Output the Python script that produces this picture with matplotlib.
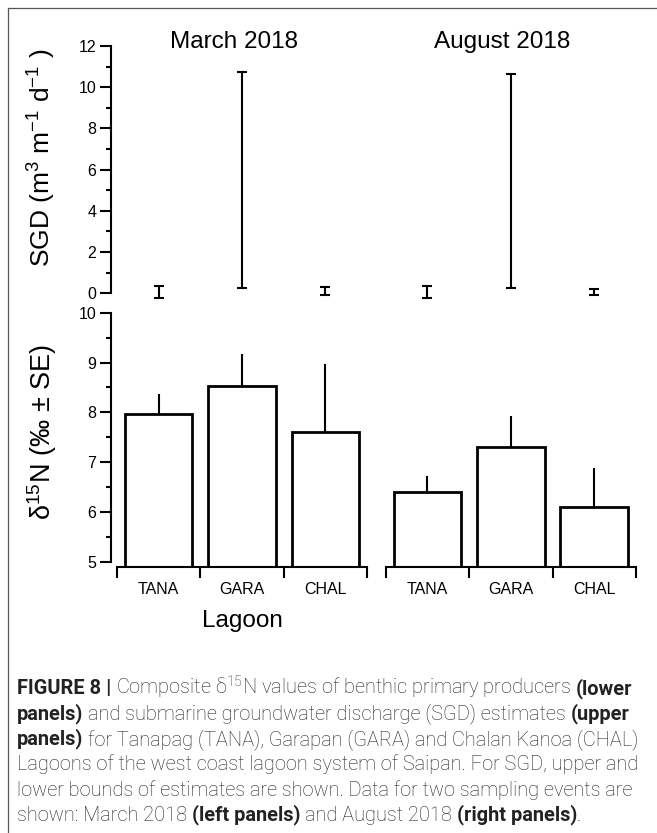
import matplotlib
matplotlib.use("Agg")
import matplotlib.pyplot as plt
from matplotlib.lines import Line2D
import numpy as np

plt.rcParams['font.family'] = ['Liberation Sans', 'DejaVu Sans']
plt.rcParams['mathtext.default'] = 'regular'

# data
lagoons = ['TANA', 'GARA', 'CHAL']
months = ['March 2018', 'August 2018']

sgd_low = [[-0.24, 0.24, -0.08], [-0.24, 0.24, -0.10]]
sgd_high = [[0.37, 10.73, 0.32], [0.37, 10.63, 0.19]]

d15n_mean = [[7.96, 8.53, 7.61], [6.39, 7.30, 6.09]]
d15n_se = [[0.41, 0.64, 1.35], [0.34, 0.62, 0.80]]

W, H = 657, 833
fig = plt.figure(figsize=(W / 100, H / 100), dpi=100)


def rect(x0, y0, x1, y1):
    # pixel box (top-left origin) -> figure fraction
    return [x0 / W, 1 - y1 / H, (x1 - x0) / W, (y1 - y0) / H]


xcols = [(117, 367), (385.7, 636)]
title_x = [233.7, 502]
lw = 1.5
x = np.arange(len(lagoons))

for i in range(2):
    x0, x1 = xcols[i]
    top = fig.add_axes(rect(x0, 46, x1, 300.5))
    bot = fig.add_axes(rect(x0, 312.7, x1, 566.7))

    # SGD ranges
    lo = np.array(sgd_low[i])
    hi = np.array(sgd_high[i])
    mid = (lo + hi) / 2
    top.errorbar(x, mid, yerr=(hi - lo) / 2, fmt='none', ecolor='black',
                 elinewidth=lw, capsize=3.3, capthick=lw)
    top.set_xlim(-0.5, 2.5)
    top.set_ylim(-0.35, 12)
    for s in ['top', 'right', 'bottom']:
        top.spines[s].set_visible(False)
    top.set_xticks([])
    fig.text(title_x[i] / W, 1 - 48 / H, months[i], fontsize=17.5,
             ha='center', va='baseline')

    # d15N bars
    bot.bar(x, d15n_mean[i], width=0.81, bottom=0, color='white',
            edgecolor='black', linewidth=2, zorder=2)
    bot.errorbar(x, d15n_mean[i], yerr=[np.zeros(3), d15n_se[i]], fmt='none',
                 ecolor='black', elinewidth=lw, capsize=0, zorder=1)
    bot.set_xlim(-0.5, 2.5)
    bot.set_ylim(4.9, 10)
    for s in ['top', 'right']:
        bot.spines[s].set_visible(False)
    bot.spines['bottom'].set_linewidth(lw)
    bot.set_xticks(x)
    bot.set_xticklabels(lagoons, fontsize=11.5)
    bot.set_xticks([-0.5, 0.5, 1.5, 2.5], minor=True)
    bot.tick_params(axis='x', which='major', length=0, pad=11)
    bot.tick_params(axis='x', which='minor', length=8, width=lw, direction='out')

    if i == 0:
        for ax, lims, maj, mnr in [(top, (0, 12), np.arange(0, 13, 2), np.arange(1, 12, 2)),
                                   (bot, (5, 10), np.arange(5, 11, 1), np.arange(5.5, 10, 1))]:
            ax.spines['left'].set_bounds(*lims)
            ax.spines['left'].set_position(('outward', 4.5))
            ax.spines['left'].set_linewidth(lw)
            ax.set_yticks(maj)
            ax.set_yticks(mnr, minor=True)
            ax.tick_params(axis='y', which='major', length=8, width=lw, labelsize=11.5, pad=2.5)
            ax.tick_params(axis='y', which='minor', length=3.8, width=lw)
    else:
        for ax in (top, bot):
            ax.spines['left'].set_visible(False)
            ax.set_yticks([])

fig.text(42 / W, 1 - 158 / H, 'SGD (m$^3$ m$^{-1}$ d$^{-1}$ )', rotation=90,
         ha='center', va='center', fontsize=19)
fig.text(42 / W, 1 - 432 / H, 'δ$^{15}$N (‰ ± SE)', rotation=90,
         ha='center', va='center', fontsize=19.5)
fig.text(242 / W, 1 - 621 / H, 'Lagoon', ha='center', va='center', fontsize=17.5)

# frame
fig.add_artist(Line2D([8 / W, 8 / W], [0, 1 - 8 / H], transform=fig.transFigure,
                      color='#555555', lw=0.9))
fig.add_artist(Line2D([8 / W, 1], [1 - 8 / H, 1 - 8 / H], transform=fig.transFigure,
                      color='#555555', lw=0.9))

# caption
caption = [
    [("FIGURE 8 |", True), ("Composite δ$^{15}$N values of benthic primary producers", False), ("(lower", True)],
    [("panels)", True), ("and submarine groundwater discharge (SGD) estimates", False), ("(upper", True)],
    [("panels)", True), ("for Tanapag (TANA), Garapan (GARA) and Chalan Kanoa (CHAL)", False)],
    [("Lagoons of the west coast lagoon system of Saipan. For SGD, upper and", False)],
    [("lower bounds of estimates are shown. Data for two sampling events are", False)],
    [("shown: March 2018", False), ("(left panels)", True), ("and August 2018", False), ("(right panels)", True), (".", False)],
]
cap_font = ['Roboto', 'Liberation Sans', 'DejaVu Sans']
renderer = fig.canvas.get_renderer()


def width_of(s, size, bold):
    t = fig.text(0, 0, s, fontsize=size, family=cap_font,
                 fontweight='bold' if bold else 'light')
    w = t.get_window_extent(renderer).width
    t.remove()
    return w


def line_width(line, size):
    sp = width_of('x x', size, False) - width_of('xx', size, False)
    tot = 0
    for k, (s, b) in enumerate(line):
        if k > 0 and s != '.':
            tot += sp
        tot += width_of(s, size, b)
    return tot


size = 12
size = size * 620 / max(line_width(l, size) for l in caption)
sp = width_of('x x', size, False) - width_of('xx', size, False)

for j, line in enumerate(caption):
    xp = 17
    yb = 694.3 + j * 25.3
    for k, (s, b) in enumerate(line):
        if k > 0 and s != '.':
            xp += sp
        t = fig.text(xp / W, 1 - yb / H, s, fontsize=size, family=cap_font,
                     fontweight='bold' if b else 'light', va='baseline',
                     color='#222222')
        xp += t.get_window_extent(renderer).width

fig.savefig('out.png', dpi=100)
